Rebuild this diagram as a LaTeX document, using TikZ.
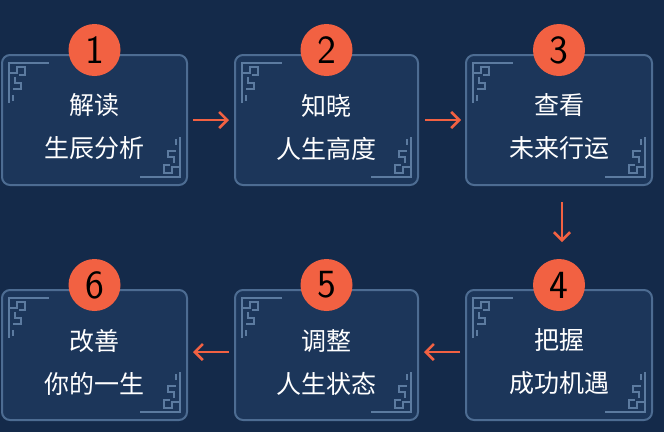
\documentclass[tikz,border=0pt]{standalone}
\usepackage{fontspec}
\newfontfamily\cjk{Noto Sans CJK SC}
\usetikzlibrary{arrows.meta}
\definecolor{bgnavy}{HTML}{142A4A}
\definecolor{boxfill}{HTML}{1C365A}
\definecolor{boxline}{HTML}{4D6C92}
\definecolor{fret}{HTML}{5C7BA0}
\definecolor{stepred}{HTML}{F26142}
\tikzset{
  stepbox/.style={draw=boxline, line width=2pt, fill=boxfill, rounded corners=8pt},
  badge/.style={circle, fill=stepred, minimum size=52pt, inner sep=0pt, text=black, font=\sffamily\fontsize{40}{40}\selectfont},
  caption/.style={text=white, align=center, font=\cjk\fontsize{25}{43}\selectfont},
  flow/.style={draw=stepred, line width=2.6pt, -{Straight Barb[length=8pt,width=16pt]}},
  fretline/.style={draw=fret, line width=1.8pt}
}
% fret ornament in a box corner (local coords, y down)
\newcommand{\fretcorner}[3]{%
  \begin{scope}[shift={(#1,#2)}, rotate=#3]
    \draw[fretline] (0,40) -- (0,0) -- (40,0);
    \draw[fretline] (0,10) -- (8,10) -- (8,4) -- (16,4) -- (16,12) -- (10,12);
    \draw[fretline] (6,14) -- (6,20) -- (12,20) -- (12,26) -- (4,26);
    \draw[fretline] (4,32) -- (4,38);
  \end{scope}}
\begin{document}
\begin{tikzpicture}[x=1pt,y=-1pt]
\fill[bgnavy] (0,0) rectangle (664,432);
\useasboundingbox (0,0) rectangle (664,432);
% boxes
\foreach \n/\xa/\xb/\ya/\yb/\top/\bot in {
  1/2/187/55/185/解读/生辰分析,
  2/235/418/55/185/知晓/人生高度,
  3/466/652/55/185/查看/未来行运,
  4/466/652/290/420/把握/成功机遇,
  5/235/418/290/420/调整/人生状态,
  6/2/187/290/420/改善/你的一生}{
  \draw[stepbox] (\xa,\ya) rectangle (\xb,\yb);
  \fretcorner{\xa+7}{\ya+8}{0}
  \fretcorner{\xb-7}{\yb-8}{180}
  \node[caption, yshift=-7pt] (t\n) at ({(\xa+\xb)/2},{(\ya+\yb)/2}) {\top\\\bot};
  \node[badge] (c\n) at ({(\xa+\xb)/2},{\ya-5}) {\n};
}
% connectors
\coordinate (a1) at (193,120); \coordinate (a2) at (229,120);
\coordinate (a3) at (425,120); \coordinate (a4) at (461,120);
\coordinate (a5) at (562,202); \coordinate (a6) at (562,242);
\coordinate (a7) at (460,352); \coordinate (a8) at (424,352);
\coordinate (a9) at (229,352); \coordinate (a10) at (193,352);
\draw[flow] (a1) -- (a2);
\draw[flow] (a3) -- (a4);
\draw[flow] (a5) -- (a6);
\draw[flow] (a7) -- (a8);
\draw[flow] (a9) -- (a10);
\end{tikzpicture}
\end{document}
